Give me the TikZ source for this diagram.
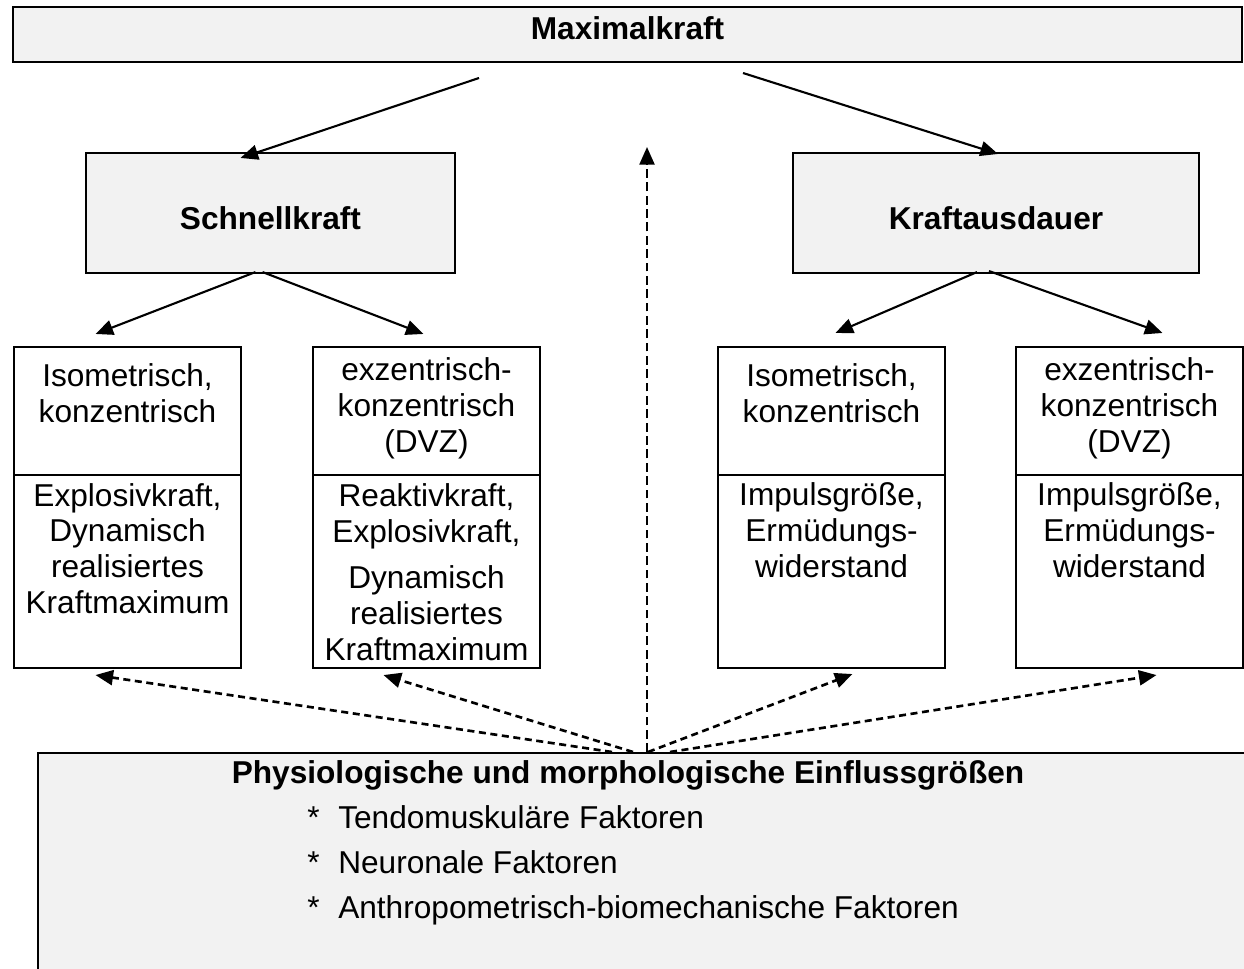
\documentclass[tikz,border=0pt]{standalone}
\usepackage{fontspec}
\setmainfont{Liberation Sans}
\usetikzlibrary{arrows.meta}
\usetikzlibrary{calc}
\definecolor{boxgrau}{RGB}{242,242,242}

\begin{document}
\begin{tikzpicture}[x=0.02cm,y=-0.02cm,
  kasten/.style={draw, line width=1.2pt, inner sep=0pt},
  graukasten/.style={kasten, fill=boxgrau},
  teil/.style={kasten, minimum width=4.55cm},
  txt/.style={font=\fontsize{18}{20.4}\selectfont, align=center, inner sep=0pt},
  btxt/.style={txt, font=\fontsize{18}{20.4}\selectfont\bfseries},
  pfeil/.style={line width=1.2pt, -{Triangle[length=10pt,width=8.5pt]}},
  strichpfeil/.style={pfeil, line width=1.5pt, dash pattern=on 4pt off 2.6pt}]
\useasboundingbox (0,0) rectangle (1244,968);

% Kopf und zweite Ebene
\node[graukasten, minimum width=24.58cm, minimum height=1.1cm] (maxk) at (627.5,34.5) {};
\node[btxt] (maxktxt) at (627.5,28) {Maximalkraft};
\node[graukasten, minimum width=7.38cm, minimum height=2.4cm] (schnell) at (270.5,213) {};
\node[btxt] (schnelltxt) at (270.5,218) {Schnellkraft};
\node[graukasten, minimum width=8.12cm, minimum height=2.4cm] (ausd) at (996,213) {};
\node[btxt] (ausdtxt) at (996,218) {Kraftausdauer};

% untere Kaesten
\node[teil, minimum height=2.56cm] (art1) at (127.5,411) {};
\node[teil, minimum height=3.86cm] (form1) at (127.5,571.5) {};
\node[teil, minimum height=2.56cm] (art2) at (426.5,411) {};
\node[teil, minimum height=3.86cm] (form2) at (426.5,571.5) {};
\node[teil, minimum height=2.56cm] (art3) at (831.5,411) {};
\node[teil, minimum height=3.86cm] (form3) at (831.5,571.5) {};
\node[teil, minimum height=2.56cm] (art4) at (1129.5,411) {};
\node[teil, minimum height=3.86cm] (form4) at (1129.5,571.5) {};

\node[txt] (art1txt) at (127.5,393) {Isometrisch,\\konzentrisch};
\node[txt] (form1txt) at (127.5,548.5) {Explosivkraft,\\Dynamisch\\realisiertes\\Kraftmaximum};
\node[txt] (art2txt) at (426.5,408.5) {exzentrisch-\\konzentrisch\\(DVZ)};
\node[txt] (form2txt) at (426.5,572) {Reaktivkraft,\\Explosivkraft,\\[5.7pt]Dynamisch\\realisiertes\\Kraftmaximum};
\node[txt] (art3txt) at (831.5,393) {Isometrisch,\\konzentrisch};
\node[txt] (form3txt) at (831.5,530.5) {Impulsgröße,\\Ermüdungs-\\widerstand};
\node[txt] (art4txt) at (1129.5,408.5) {exzentrisch-\\konzentrisch\\(DVZ)};
\node[txt] (form4txt) at (1129.5,530.5) {Impulsgröße,\\Ermüdungs-\\widerstand};

% Einflussgroessen
\node[graukasten, anchor=north west, minimum width=24.4cm, minimum height=5cm] (einfl) at (37,752) {};
\node[btxt] (einfltxt) at (628,775) {Physiologische und morphologische Einflussgrößen};
\foreach \y/\t [count=\i] in {828/Tendomuskuläre Faktoren, 873/Neuronale Faktoren,
    918/Anthropometrisch-biomechanische Faktoren}
  \node[txt, anchor=base west] (fakt\i) at (307,\y) {\makebox[17.6pt][l]{*}\t};

% Pfeile
\coordinate (mL) at (479,78);
\coordinate (mR) at (743,73);
\draw[pfeil] (mL) -- ($(schnell.north)+(-30,6)$);
\draw[pfeil] (mR) -- ($(ausd.north)+(2,2)$);
\draw[pfeil] ($(schnell.south)+(-15,-2)$) -- ($(art1.north)+(-32,-12)$);
\draw[pfeil] ($(schnell.south)+(-8,-2)$) -- ($(art2.north)+(-3,-12)$);
\draw[pfeil] ($(ausd.south)+(-19,-2)$) -- ($(art3.north)+(4,-13)$);
\draw[pfeil] ($(ausd.south)+(-7,-3)$) -- ($(art4.north)+(33,-13)$);

\draw[strichpfeil] ($(einfl.north west)+(575,0)$) -- ($(form1.south)+(-32,6)$);
\draw[strichpfeil] ($(einfl.north west)+(596,0)$) -- ($(form2.south)+(-43,6)$);
\draw[strichpfeil, line width=1.3pt, dash pattern=on 5pt off 2.6pt]
  ($(einfl.north west)+(610,0)$) -- ($(einfl.north west)+(610,-605)$);
\draw[strichpfeil] ($(einfl.north west)+(611,0)$) -- ($(form3.south)+(21,5)$);
\draw[strichpfeil] ($(einfl.north west)+(633,0)$) -- ($(form4.south)+(27,6)$);

\end{tikzpicture}
\end{document}
